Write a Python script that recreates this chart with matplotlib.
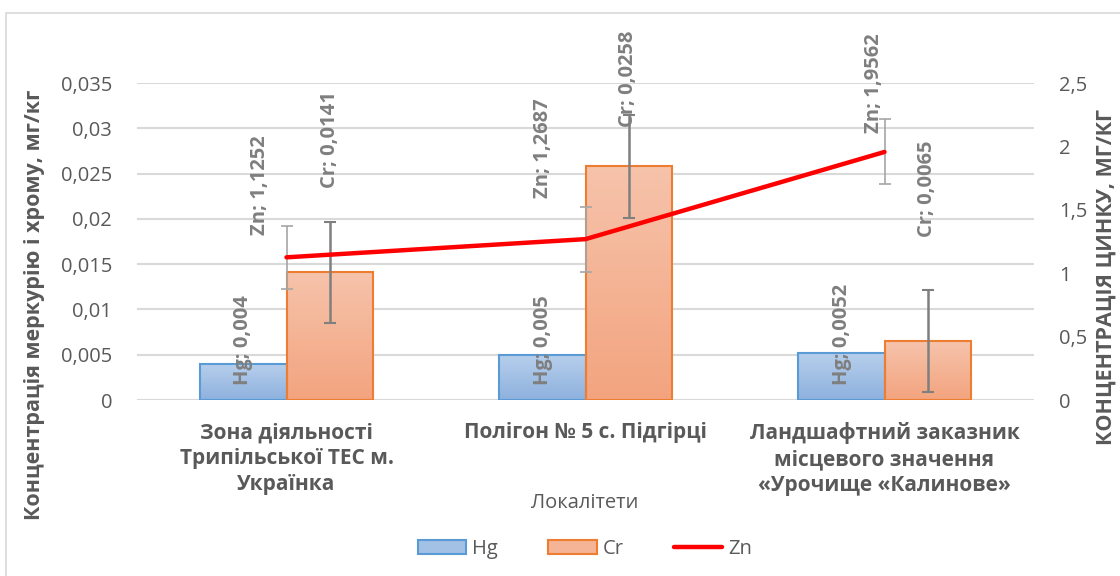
import numpy as np
import matplotlib
matplotlib.use("Agg")
import matplotlib.pyplot as plt
from matplotlib.colors import LinearSegmentedColormap
from matplotlib.patches import Rectangle

plt.rcParams['font.family'] = ['Open Sans', 'DejaVu Sans']

# дані
categories = ["Зона діяльності\nТрипільської ТЕС м.\nУкраїнка",
              "Полігон № 5 с. Підгірці",
              "Ландшафтний заказник\nмісцевого значення\n«Урочище «Калинове»"]
hg = [0.004, 0.005, 0.0052]
cr = [0.0141, 0.0258, 0.0065]
zn = [1.1252, 1.2687, 1.9562]
cr_err = [0.0056, 0.0057, 0.0056]
zn_err = [0.25, 0.256, 0.256]
hg_labels = ["Hg; 0,004", "Hg; 0,005", "Hg; 0,0052"]
cr_labels = ["Cr; 0,0141", "Cr; 0,0258", "Cr; 0,0065"]
zn_labels = ["Zn; 1,1252", "Zn; 1,2687", "Zn; 1,9562"]
left_ticks = [0, 0.005, 0.01, 0.015, 0.02, 0.025, 0.03, 0.035]
left_ticklabels = ["0", "0,005", "0,01", "0,015", "0,02", "0,025", "0,03", "0,035"]
right_ticks = [0, 0.5, 1, 1.5, 2, 2.5]
right_ticklabels = ["0", "0,5", "1", "1,5", "2", "2,5"]

# положення підписів (ручне розміщення як в оригіналі)
hg_lab_pos = [(-0.145, 0.0017), (0.858, 0.0017), (1.858, 0.0017)]
cr_lab_pos = [(0.145, 0.0234), (1.142, 0.0301), (2.142, 0.0180)]
zn_lab_pos = [(-0.089, 0.0182), (0.858, 0.0223), (1.966, 0.0295)]

GRAY = '#7f7f7f'
TXT = '#595959'
W, H = 1120, 576

fig = plt.figure(figsize=(W / 100, H / 100), dpi=100)
fig.add_artist(Rectangle((6 / W, -0.1), 1.2, 1 - 13 / H + 0.1, transform=fig.transFigure,
                         facecolor='none', edgecolor='#d9d9d9', lw=1.2))
ax = fig.add_axes([137 / W, (H - 400) / H, 897 / W, 317 / H])
ax2 = ax.twinx()

x = np.arange(len(categories))
bw = 0.288

cmap_hg = LinearSegmentedColormap.from_list('hg', ['#b7cfec', '#8eb1de'])
cmap_cr = LinearSegmentedColormap.from_list('cr', ['#f6c3ab', '#f3a47f'])
grad = np.linspace(0, 1, 100).reshape(-1, 1)

for xs, vals, cm, ec in [(x - bw / 2, hg, cmap_hg, '#5b9bd5'), (x + bw / 2, cr, cmap_cr, '#ed7d31')]:
    bars = ax.bar(xs, vals, width=bw, facecolor='none', edgecolor=ec, lw=1.5, zorder=3)
    for b in bars:
        im = ax.imshow(grad, extent=[b.get_x(), b.get_x() + b.get_width(), 0, b.get_height()],
                       aspect='auto', cmap=cm, origin='upper', zorder=2)
        im.set_clip_path(b)

ax.errorbar(x + bw / 2, cr, yerr=cr_err, fmt='none', ecolor=GRAY, elinewidth=1.8,
            capsize=4, capthick=1.5, zorder=4)

ax.set_xlim(-0.5, 2.5)
ax.set_ylim(0, 0.035)
ax.set_yticks(left_ticks)
ax.set_yticklabels(left_ticklabels)
ax.grid(axis='y', color='#d9d9d9', lw=1.5, zorder=0)
ax.set_axisbelow(True)
for s in ax.spines.values():
    s.set_visible(False)
for s in ax2.spines.values():
    s.set_visible(False)
ax.tick_params(axis='y', length=0, pad=18, labelsize=14.5, labelcolor=TXT)
ax.set_xticks(x)
ax.set_xticklabels(categories, fontweight='bold', linespacing=1.3)
ax.tick_params(axis='x', length=0, pad=16, labelsize=15, labelcolor=TXT)

ax2.errorbar(x, zn, yerr=zn_err, fmt='none', ecolor='#a6a6a6', elinewidth=1.2,
             capsize=4, capthick=1.2, zorder=4)
ax2.plot(x, zn, color='#ff0000', lw=3.2, solid_capstyle='round', zorder=5)
ax2.set_ylim(0, 2.5)
ax2.set_yticks(right_ticks)
ax2.set_yticklabels(right_ticklabels)
ax2.tick_params(axis='y', length=0, pad=18, labelsize=14.5, labelcolor=TXT)

lab_kw = dict(rotation=90, ha='center', va='bottom', fontsize=14.5, color=GRAY,
              fontweight='bold', zorder=6)
for labs, pos in [(hg_labels, hg_lab_pos), (cr_labels, cr_lab_pos), (zn_labels, zn_lab_pos)]:
    for t, (px, py) in zip(labs, pos):
        ax.text(px, py, t, **lab_kw)

fig.text(35 / W, 1 - 305 / H, "Концентрація меркурію і хрому, мг/кг", rotation=90,
         ha='center', va='center', fontsize=15.5, fontweight='bold', color=TXT)
fig.text(1106 / W, 1 - 277 / H, "КОНЦЕНТРАЦІЯ ЦИНКУ, МГ/КГ", rotation=90,
         ha='center', va='center', fontsize=15.5, fontweight='bold', color=TXT)
fig.text(585 / W, 1 - 503 / H, "Локалітети", ha='center', va='center', fontsize=14.5, color=TXT)

h_hg = Rectangle((0, 0), 1, 1, facecolor='#a3c0e5', edgecolor='#5b9bd5', lw=1.5)
h_cr = Rectangle((0, 0), 1, 1, facecolor='#f5b496', edgecolor='#ed7d31', lw=1.5)
h_zn, = ax.plot([], [], color='#ff0000', lw=3.2, solid_capstyle='round')
leg = fig.legend([h_hg, h_cr, h_zn], ["Hg", "Cr", "Zn"], loc='center', ncol=3,
                 bbox_to_anchor=(585 / W, 1 - 549 / H), frameon=False, fontsize=14.5,
                 handlelength=2.4, handleheight=0.7, handletextpad=0.3, columnspacing=2.5)
for t in leg.get_texts():
    t.set_color(TXT)

fig.savefig("out.png", dpi=100)
